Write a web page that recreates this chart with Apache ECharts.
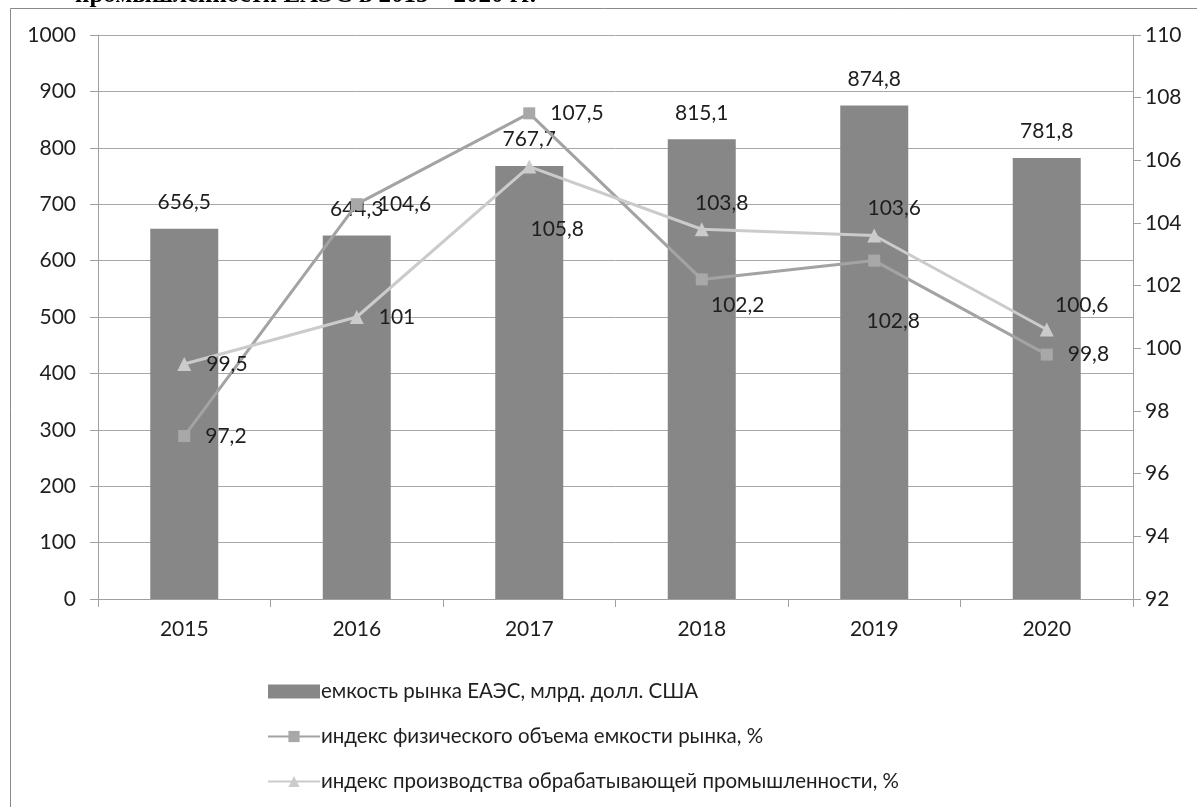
<!DOCTYPE html>
<html>
<head>
<meta charset="utf-8">
<script src="https://cdn.jsdelivr.net/npm/echarts@6/dist/echarts.min.js"></script>
<style>html,body{margin:0;padding:0;background:#fff;}#c{width:1197px;height:807px;}</style>
</head>
<body>
<div id="c"></div>
<script>
const categories = ['2015', '2016', '2017', '2018', '2019', '2020'];
const marketCapacity = [656.5, 644.3, 767.7, 815.1, 874.8, 781.8];
const volumeIndex = [97.2, 104.6, 107.5, 102.2, 102.8, 99.8];
const productionIndex = [99.5, 101, 105.8, 103.8, 103.6, 100.6];
const leftTicks = [0, 1000, 100];
const rightTicks = [92, 110, 2];
const seriesNames = [
  'емкость рынка ЕАЭС, млрд. долл. США',
  'индекс физического объема емкости рынка, %',
  'индекс производства обрабатывающей промышленности, %'
];

const FONT = 'Lato';
const TXT = '#1e1e1e';
const fmt = p => String(p.value).replace('.', ',');

// label placement per point (style, not data)
const volLabel = [null, null, null, [36, 26], [19, 61], null];
const prodLabel = [null, null, [28, 63], [20, -26], [20, -27], [35, -24]];
function withLabels(values, offs) {
  return values.map((v, i) => {
    const o = offs[i];
    if (!o) return { value: v };
    return { value: v, label: { position: 'inside', offset: o } };
  });
}

const chart = echarts.init(document.getElementById('c'), null, { renderer: 'canvas' });
chart.setOption({
  animation: false,
  backgroundColor: '#fff',
  textStyle: { fontFamily: FONT },
  graphic: [
    { type: 'rect', shape: { x: 10.5, y: 8.5, width: 1300, height: 900 }, style: { fill: 'none', stroke: '#8a8a8a', lineWidth: 1 }, z: -1 },
    { type: 'text', left: 75, top: -17, style: { text: 'промышленности ЕАЭС в 2015 – 2020 гг.', font: 'bold 25px "Liberation Serif"', fill: '#000' } }
  ],
  grid: { left: 98, right: 64, top: 35, bottom: 208, containLabel: false },
  legend: {
    orient: 'vertical',
    left: 262,
    top: 676,
    itemGap: 24,
    itemWidth: 52,
    itemHeight: 14,
    textStyle: { fontFamily: FONT, fontSize: 20.5, color: TXT, padding: [0, 0, 0, -4] },
    data: [
      { name: seriesNames[0], icon: 'rect', itemStyle: { color: '#878787' } },
      { name: seriesNames[1] },
      { name: seriesNames[2] }
    ]
  },
  xAxis: {
    type: 'category',
    data: categories,
    boundaryGap: true,
    axisLine: { lineStyle: { color: '#a0a0a0', width: 1 } },
    axisTick: { show: true, length: 8, lineStyle: { color: '#a0a0a0' } },
    axisLabel: { fontFamily: FONT, fontSize: 21, color: TXT, margin: 20 }
  },
  yAxis: [
    {
      type: 'value', min: leftTicks[0], max: leftTicks[1], interval: leftTicks[2],
      axisLine: { show: true, lineStyle: { color: '#a0a0a0' } },
      axisTick: { show: true, length: 8, lineStyle: { color: '#a0a0a0' } },
      axisLabel: { fontFamily: FONT, fontSize: 21, color: TXT, margin: 22, formatter: v => String(v) },
      splitLine: { show: true, lineStyle: { color: '#a8a8a8', width: 1 } }
    },
    {
      type: 'value', min: rightTicks[0], max: rightTicks[1], interval: rightTicks[2],
      position: 'right',
      axisLine: { show: true, lineStyle: { color: '#a0a0a0' } },
      axisTick: { show: true, length: 8, lineStyle: { color: '#a0a0a0' } },
      axisLabel: { fontFamily: FONT, fontSize: 21, color: TXT, margin: 12, formatter: v => String(v) },
      splitLine: { show: false }
    }
  ],
  series: [
    {
      name: seriesNames[0], type: 'bar', yAxisIndex: 0, data: marketCapacity,
      barWidth: 68,
      itemStyle: { color: '#878787' },
      label: { show: true, position: 'top', distance: 16, fontFamily: FONT, fontSize: 21, color: TXT, formatter: fmt }
    },
    {
      name: seriesNames[1], type: 'line', yAxisIndex: 1, data: withLabels(volumeIndex, volLabel),
      symbol: 'rect', symbolSize: 12,
      lineStyle: { color: '#a3a3a3', width: 3 },
      itemStyle: { color: '#a8a8a8' },
      label: { show: true, position: 'right', distance: 15, fontFamily: FONT, fontSize: 21, color: TXT, formatter: fmt },
      z: 3
    },
    {
      name: seriesNames[2], type: 'line', yAxisIndex: 1, data: withLabels(productionIndex, prodLabel),
      symbol: 'triangle', symbolSize: 14,
      lineStyle: { color: '#cbcbcb', width: 3 },
      itemStyle: { color: '#cbcbcb' },
      label: { show: true, position: 'right', distance: 15, fontFamily: FONT, fontSize: 21, color: TXT, formatter: fmt },
      z: 4
    }
  ]
});
</script>
</body>
</html>
